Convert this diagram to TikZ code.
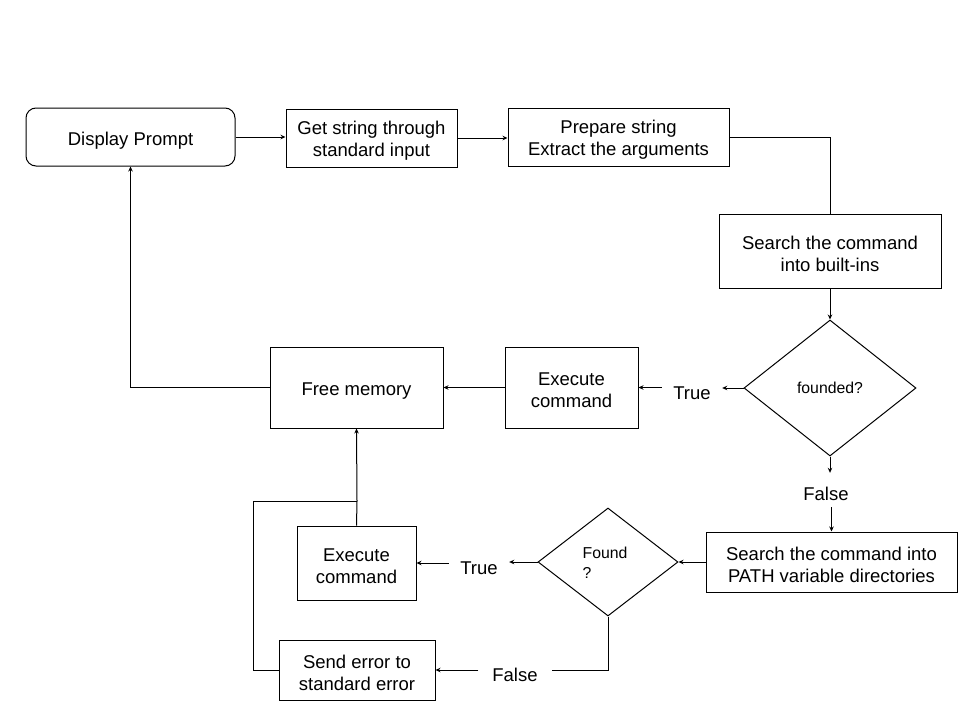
\documentclass[tikz,border=0pt]{standalone}
\usepackage{fontspec}
\setmainfont{Liberation Sans}
\usetikzlibrary{shapes.geometric,arrows.meta}
\newcommand{\mystrut}{\rule{0pt}{18.5pt}}
\begin{document}
\begin{tikzpicture}[x=1pt,y=-1pt,
  every node/.style={font=\fontsize{18.5}{22}\selectfont},
  box/.style={draw,line width=1pt,inner sep=0pt,align=center},
  onebox/.style={box,execute at begin node={\rule{0pt}{20.5pt}}},
  dia/.style={draw,diamond,line width=1pt,inner sep=0pt,align=center,font=\fontsize{15.8}{22}\selectfont},
  lbl/.style={inner sep=0pt,minimum height=20pt},
  line/.style={line width=1pt},
  arr/.style={line width=1pt,-{Stealth[length=5pt,width=4.5pt]}}]
\useasboundingbox (0,0) rectangle (960,720);
\fill[white] (0,0) rectangle (960,720);
% nodes
\node[onebox,rounded corners=10pt,minimum width=209pt,minimum height=58pt] (prompt) at (130.5,137) {Display Prompt};
\node[box,minimum width=171pt,minimum height=58pt] (get) at (371.5,138) {\mystrut Get string through\\standard input};
\node[box,minimum width=221pt,minimum height=58pt] (prep) at (618.5,137) {\mystrut Prepare string\\Extract the arguments};
\node[box,minimum width=222pt,minimum height=74pt] (sbi) at (830,251) {\mystrut Search the command\\into built-ins};
\node[dia,minimum width=172pt,minimum height=136pt] (fd) at (830,388) {founded?};
\node[box,minimum width=133pt,minimum height=81pt] (ex1) at (571.5,387.5) {\mystrut Execute\\command};
\node[onebox,minimum width=173pt,minimum height=81pt] (free) at (356.5,387.5) {Free memory};
\node[box,minimum width=251pt,minimum height=60pt] (spath) at (831.5,562) {\mystrut Search the command into\\PATH variable directories};
\node[dia,minimum width=140pt,minimum height=108pt] (fnd) at (608,562) {};
\node[align=left,inner sep=0pt,font=\fontsize{15.8}{20}\selectfont] (fndtxt) at (605,563) {Found\\?};
\node[box,minimum width=119pt,minimum height=74pt] (ex2) at (356.5,563) {\mystrut Execute\\command};
\node[box,minimum width=156pt,minimum height=60pt] (err) at (357,670) {\mystrut Send error to\\standard error};
% labels
\node[lbl,minimum width=60pt] (t1) at (692,393) {True};
\node[lbl,minimum width=60pt] (t2) at (479,568) {True};
\node[lbl,minimum height=34pt] (f1) at (826,490) {\raisebox{-3.5pt}[\height][\depth]{False}};
\node[lbl,minimum width=73pt] (f2) at (515,675) {False};
\coordinate (j) at (357,501);
% connectors
\draw[arr] (prompt.east) -- (get.west |- prompt.east);
\draw[arr] (get.east) -- (prep.west |- get.east);
\draw[line] (prep.east) -| (sbi.north);
\draw[arr] (sbi.south) -- (fd.north);
\draw[arr] (fd.west) -- (fd.west -| t1.east);
\draw[arr] (t1.west |- ex1.east) -- (ex1.east);
\draw[arr] (ex1.west) -- (free.east);
\draw[arr] (free.west) -| (prompt.south);
\draw[arr] (fd.south) -- (f1.north -| fd.south);
\draw[arr] (f1.south -| spath.north) -- (spath.north);
\draw[arr] (spath.west) -- (fnd.east);
\draw[arr] (fnd.west) -- (fnd.west -| t2.east);
\draw[arr] (t2.west |- ex2.east) -- (ex2.east);
\draw[line] (fnd.south) |- (f2.east |- 0,670);
\draw[arr] (f2.west |- 0,670) -- (err.east |- 0,670);
\draw[line] (ex2.north) -- (j);
\draw[line] (err.west) -- (253,670) -- (253,501) -- (j);
\draw[arr] (j) -- (free.south);
\end{tikzpicture}
\end{document}
